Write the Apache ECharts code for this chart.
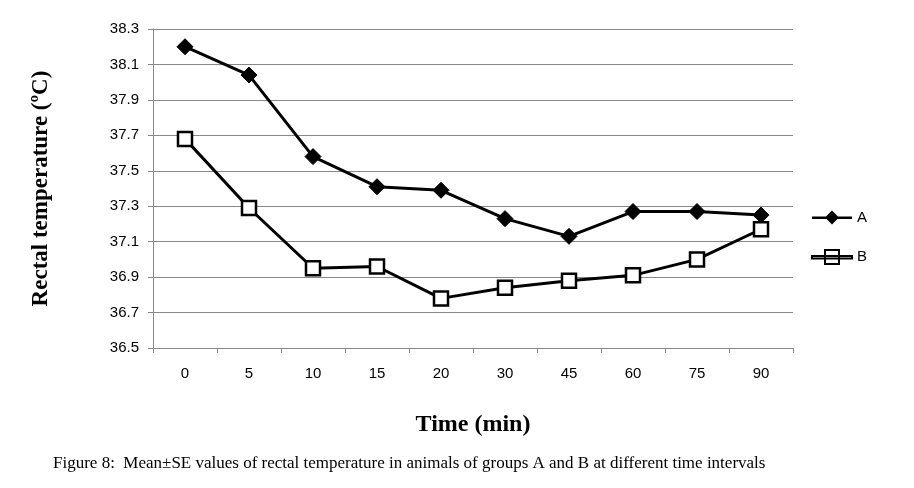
<!doctype html>
<html lang="en">
<head>
<meta charset="UTF-8">
<title>Rectal temperature</title>
<script src="https://cdn.jsdelivr.net/npm/echarts@6/dist/echarts.min.js"></script>
<style>
  body { margin: 0; background: #fff; }
  #main { width: 914px; height: 488px; }
</style>
</head>
<body>
<div id="main"></div>
<script>
var times = ['0', '5', '10', '15', '20', '30', '45', '60', '75', '90'];
var groupA = [38.20, 38.04, 37.58, 37.41, 37.39, 37.23, 37.13, 37.27, 37.27, 37.25];
var groupB = [37.68, 37.29, 36.95, 36.96, 36.78, 36.84, 36.88, 36.91, 37.00, 37.17];

var chart = echarts.init(document.getElementById('main'));
chart.setOption({
    animation: false,
    backgroundColor: '#fff',
    grid: { left: 153, right: 121, top: 29, bottom: 140 },
    title: {
        text: 'Figure 8:  Mean±SE values of rectal temperature in animals of groups A and B at different time intervals',
        left: 48, top: 450,
        textStyle: { fontFamily: 'Liberation Serif', fontSize: 17, fontWeight: 'normal', color: '#000' }
    },
    legend: {
        orient: 'vertical', right: 42, top: 205, itemGap: 24,
        itemWidth: 40, itemHeight: 14,
        textStyle: { fontFamily: 'Liberation Sans', fontSize: 15, color: '#000' },
        data: [
            { name: 'A', icon: 'path://M0,6H40V8.5H0Z M13,7L20,0L27,7L20,14Z' },
            { name: 'B', icon: 'path://M0,6H40V8.5H0Z M13,0H27V14H13Z' }
        ]
    },
    xAxis: {
        type: 'category', data: times, boundaryGap: true,
        name: 'Time (min)', nameLocation: 'middle', nameGap: 65,
        nameTextStyle: { fontFamily: 'Liberation Serif', fontWeight: 'bold', fontSize: 24, color: '#000' },
        axisLine: { lineStyle: { color: '#888' } },
        axisTick: { show: true, length: 5, lineStyle: { color: '#888' } },
        axisLabel: { fontFamily: 'Liberation Sans', fontSize: 15, color: '#000', margin: 18 }
    },
    yAxis: {
        type: 'value', min: 36.5, max: 38.3, interval: 0.2,
        name: 'Rectal temperature (ºC)', nameLocation: 'middle', nameGap: 100,
        nameTextStyle: { fontFamily: 'Liberation Serif', fontWeight: 'bold', fontSize: 23, color: '#000' },
        axisLine: { show: true, lineStyle: { color: '#888' } },
        axisTick: { show: true, length: 5, lineStyle: { color: '#888' } },
        axisLabel: { fontFamily: 'Liberation Sans', fontSize: 15, color: '#000', margin: 14,
            formatter: function (v) { return v.toFixed(1); } },
        splitLine: { lineStyle: { color: '#888' } }
    },
    series: [
        {
            name: 'A', type: 'line', data: groupA,
            symbol: 'diamond', symbolSize: 16,
            lineStyle: { color: '#000', width: 3 },
            itemStyle: { color: '#000', borderColor: '#000' }
        },
        {
            name: 'B', type: 'line', data: groupB,
            symbol: 'rect', symbolSize: 14,
            lineStyle: { color: '#000', width: 3 },
            itemStyle: { color: '#fff', borderColor: '#000', borderWidth: 2.5 }
        }
    ]
});
</script>
</body>
</html>
